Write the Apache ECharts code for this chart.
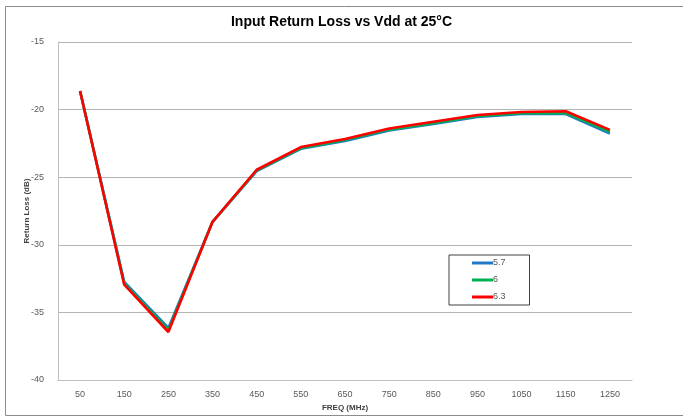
<!DOCTYPE html>
<html>
<head>
<meta charset="utf-8">
<script src="https://cdn.jsdelivr.net/npm/echarts@6/dist/echarts.min.js"></script>
<style>
  html, body { margin: 0; padding: 0; background: #fff; }
  #chart { width: 683px; height: 417px; }
</style>
</head>
<body>
<div id="chart"></div>
<script>
// Frequency points (MHz)
const freqs = ['50', '150', '250', '350', '450', '550', '650', '750', '850', '950', '1050', '1150', '1250'];

// Input return loss (dB) per supply voltage
const vdd57 = [-18.62, -32.75, -36.15, -28.3, -24.55, -22.9, -22.32, -21.55, -21.07, -20.55, -20.33, -20.33, -21.78];
const vdd60 = [-18.62, -32.85, -36.3, -28.3, -24.5, -22.85, -22.25, -21.48, -21.0, -20.48, -20.27, -20.25, -21.65];
const vdd63 = [-18.62, -32.95, -36.45, -28.3, -24.45, -22.77, -22.17, -21.4, -20.9, -20.4, -20.18, -20.12, -21.5];

const seriesNames = ['5.7', '6', '6.3'];
const seriesColors = ['#1f78c8', '#00b050', '#ff0000'];

// y-axis range and ticks
const yMin = -40, yMax = -15, yStep = 5;

const chart = echarts.init(document.getElementById('chart'));
const labelColor = '#595959';
const font = 'Liberation Sans, Arial, sans-serif';
const narrowFont = 'Liberation Sans Narrow, Liberation Sans, Arial, sans-serif';

chart.setOption({
  animation: false,
  backgroundColor: '#fff',
  title: {
    text: 'Input Return Loss vs Vdd at 25°C',
    left: 'center',
    top: 10,
    textStyle: { fontFamily: font, fontSize: 14, fontWeight: 'bold', color: '#000' }
  },
  graphic: [{
    type: 'rect',
    shape: { x: 5.5, y: 6.5, width: 700, height: 409 },
    style: { fill: 'none', stroke: '#8c8c8c', lineWidth: 1 },
    silent: true
  }],
  grid: { left: 58, right: 51, top: 42, bottom: 37 },
  legend: {
    orient: 'vertical',
    left: 449,
    top: 255,
    padding: [3, 24, 3, 23],
    itemGap: 7,
    itemWidth: 21,
    itemHeight: 3,
    icon: 'rect',
    borderColor: '#404040',
    borderWidth: 1,
    textStyle: { fontFamily: font, fontSize: 9, color: labelColor, padding: [0, 0, 0, -5], lineHeight: 10 },
    data: seriesNames
  },
  xAxis: {
    type: 'category',
    data: freqs,
    boundaryGap: true,
    name: 'FREQ (MHz)',
    nameLocation: 'middle',
    nameGap: 21,
    nameTextStyle: { fontFamily: font, fontSize: 8, fontWeight: 'bold', color: '#404040' },
    axisLine: { lineStyle: { color: '#bfbfbf', width: 1 } },
    axisTick: { show: false },
    axisLabel: { fontFamily: font, fontSize: 9, color: labelColor, margin: 10 },
    splitLine: { show: false }
  },
  yAxis: {
    type: 'value',
    min: yMin,
    max: yMax,
    interval: yStep,
    name: 'Return Loss (dB)',
    nameLocation: 'middle',
    nameGap: 27,
    nameMoveOverlap: false,
    nameTextStyle: { fontFamily: narrowFont, fontSize: 8, fontWeight: 'bold', color: '#404040' },
    axisLine: { show: true, lineStyle: { color: '#bfbfbf', width: 1 } },
    axisTick: { show: false },
    axisLabel: { fontFamily: font, fontSize: 9, color: labelColor, margin: 14 },
    splitLine: { show: true, lineStyle: { color: '#b3b3b3', width: 1 } }
  },
  series: [vdd57, vdd60, vdd63].map((vals, i) => ({
    name: seriesNames[i],
    type: 'line',
    data: vals,
    symbol: 'none',
    lineStyle: { color: seriesColors[i], width: 2.6 },
    itemStyle: { color: seriesColors[i] },
    z: 2 + i
  }))
});
</script>
</body>
</html>
